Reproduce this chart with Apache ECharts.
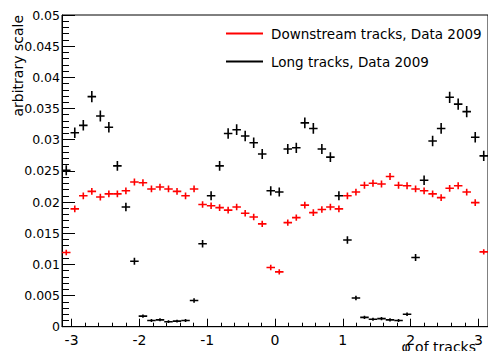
<!DOCTYPE html>
<html>
<head>
<meta charset="utf-8">
<script src="https://cdn.jsdelivr.net/npm/echarts@6/dist/echarts.min.js"></script>
<style>
  html, body { margin: 0; padding: 0; background: #fff; }
  #chart { width: 488px; height: 351px; }
</style>
</head>
<body>
<div id="chart"></div>
<script>
// Histogram binning in phi: 50 bins over [-pi, pi]
const PHI_MIN = -Math.PI;
const PHI_MAX = Math.PI;
const N_BINS = 50;

// Normalised track counts per phi bin
const downstream = [
  0.0119, 0.0189, 0.0210, 0.0217, 0.0208, 0.0213, 0.0213, 0.0218, 0.0232, 0.0231,
  0.0221, 0.0224, 0.0221, 0.0217, 0.0210, 0.0221, 0.0196, 0.0194, 0.0191, 0.0187,
  0.0192, 0.0182, 0.0176, 0.0165, 0.0095, 0.0088, 0.0167, 0.0175, 0.0195, 0.0183,
  0.0188, 0.0192, 0.0189, 0.0210, 0.0216, 0.0227, 0.0230, 0.0229, 0.0241, 0.0227,
  0.0226, 0.0221, 0.0218, 0.0213, 0.0207, 0.0222, 0.0226, 0.0216, 0.0199, 0.0120
];
const downstreamErr = [
  0.00033, 0.00045, 0.00045, 0.00045, 0.00045, 0.00045, 0.00045, 0.00045, 0.00046, 0.00046,
  0.00045, 0.00045, 0.00045, 0.00045, 0.00045, 0.00045, 0.00044, 0.00044, 0.00043, 0.00043,
  0.00043, 0.00042, 0.00042, 0.00041, 0.00033, 0.00032, 0.00041, 0.00042, 0.00044, 0.00043,
  0.00043, 0.00044, 0.00043, 0.00045, 0.00045, 0.00046, 0.00046, 0.00046, 0.00047, 0.00046,
  0.00046, 0.00045, 0.00045, 0.00045, 0.00045, 0.00045, 0.00046, 0.00045, 0.00044, 0.00033
];
const longTracks = [
  0.0251, 0.0311, 0.0323, 0.0369, 0.0338, 0.0320, 0.0258, 0.0192, 0.0105, 0.0017,
  0.0010, 0.0011, 0.0008, 0.0009, 0.0010, 0.0042, 0.0133, 0.0210, 0.0258, 0.0310,
  0.0316, 0.0306, 0.0295, 0.0277, 0.0218, 0.0216, 0.0285, 0.0287, 0.0327, 0.0318,
  0.0285, 0.0272, 0.0210, 0.0139, 0.0046, 0.0015, 0.0012, 0.0013, 0.0011, 0.0010,
  0.0020, 0.0111, 0.0235, 0.0298, 0.0318, 0.0368, 0.0357, 0.0345, 0.0304, 0.0274
];
const longErr = [
  0.00070, 0.00075, 0.00075, 0.00080, 0.00078, 0.00075, 0.00070, 0.00060, 0.00045, 0.00018,
  0.00014, 0.00014, 0.00012, 0.00013, 0.00014, 0.00028, 0.00050, 0.00062, 0.00070, 0.00075,
  0.00076, 0.00075, 0.00074, 0.00071, 0.00064, 0.00063, 0.00072, 0.00073, 0.00077, 0.00076,
  0.00072, 0.00070, 0.00062, 0.00050, 0.00028, 0.00017, 0.00015, 0.00016, 0.00015, 0.00014,
  0.00020, 0.00045, 0.00066, 0.00074, 0.00076, 0.00080, 0.00080, 0.00079, 0.00074, 0.00071
];

const seriesNames = ['Downstream tracks, Data 2009', 'Long tracks, Data 2009'];
const xTickLabels = [-3, -2, -1, 0, 1, 2, 3];
const yTitle = 'arbitrary scale';
const xTitle = '\u03c6 of tracks';

const FONT = 'DejaVu Sans';
const binWidth = (PHI_MAX - PHI_MIN) / N_BINS;
const halfBin = binWidth / 2;

function binned(values, errors) {
  return values.map((v, i) => [PHI_MIN + (i + 0.5) * binWidth, v, errors[i]]);
}

// minor x ticks every 0.2
const xMinorTicks = [];
for (let k = -15; k <= 15; k++) xMinorTicks.push(k / 5);

// each bin drawn as a cross: horizontal bar over the bin width, vertical bar = stat. error
function crossRenderer(color) {
  return function (params, api) {
    const x = api.value(0), y = api.value(1), e = api.value(2);
    const l = api.coord([x - halfBin, y]);
    const r = api.coord([x + halfBin, y]);
    const t = api.coord([x, y + e]);
    const b = api.coord([x, y - e]);
    const style = { stroke: color, lineWidth: 1.6 };
    return {
      type: 'group',
      children: [
        { type: 'line', shape: { x1: l[0], y1: l[1], x2: r[0], y2: r[1] }, style: style },
        { type: 'line', shape: { x1: t[0], y1: t[1] - 0.6, x2: b[0], y2: b[1] + 0.6 }, style: style }
      ]
    };
  };
}

const chart = echarts.init(document.getElementById('chart'), null, { renderer: 'svg' });

chart.setOption({
  animation: false,
  backgroundColor: '#fff',
  textStyle: { fontFamily: FONT, color: '#000' },
  grid: {
    left: 62, top: 15, width: 430, height: 311.7,
    show: true, borderColor: '#000', borderWidth: 1, backgroundColor: 'transparent'
  },
  legend: {
    orient: 'vertical',
    left: 226, top: 25,
    padding: 0,
    itemGap: 11,
    icon: 'rect',
    itemWidth: 37, itemHeight: 2,
    data: seriesNames,
    textStyle: { fontFamily: FONT, fontSize: 13.5, color: '#000', lineHeight: 17, padding: [0, 0, 0, 3] }
  },
  xAxis: [
    {
      type: 'value', min: PHI_MIN, max: PHI_MAX,
      axisLine: { show: true, onZero: false, lineStyle: { color: '#000', width: 1 } },
      axisTick: { show: true, inside: true, length: 8, customValues: xTickLabels, lineStyle: { color: '#000' } },
      axisLabel: { show: true, customValues: xTickLabels, fontSize: 14, color: '#000', fontFamily: FONT, margin: 6 },
      splitLine: { show: false }
    },
    {
      type: 'value', min: PHI_MIN, max: PHI_MAX, position: 'bottom',
      axisLine: { show: false, onZero: false },
      axisTick: { show: true, inside: true, length: 4, customValues: xMinorTicks, lineStyle: { color: '#000' } },
      axisLabel: { show: false },
      splitLine: { show: false }
    }
  ],
  yAxis: {
    type: 'value', min: 0, max: 0.05, interval: 0.005,
    axisLine: { show: true, onZero: false, lineStyle: { color: '#000', width: 1 } },
    axisTick: { show: true, inside: true, length: 13, lineStyle: { color: '#000' } },
    minorTick: { show: true, splitNumber: 5, length: 7, lineStyle: { color: '#000' } },
    axisLabel: { fontSize: 12.5, color: '#000', fontFamily: FONT, margin: 2 },
    splitLine: { show: false },
    minorSplitLine: { show: false }
  },
  series: [
    {
      type: 'custom', name: seriesNames[1],
      xAxisIndex: 0, yAxisIndex: 0, clip: true,
      itemStyle: { color: '#000' },
      renderItem: crossRenderer('#000'),
      encode: { x: 0, y: 1 },
      data: binned(longTracks, longErr)
    },
    {
      type: 'custom', name: seriesNames[0],
      xAxisIndex: 0, yAxisIndex: 0, clip: true,
      itemStyle: { color: '#ff0000' },
      renderItem: crossRenderer('#ff0000'),
      encode: { x: 0, y: 1 },
      data: binned(downstream, downstreamErr)
    }
  ],
  graphic: [
    {
      type: 'text', x: 18, y: 15, rotation: Math.PI / 2,
      style: { text: yTitle, font: '14px "DejaVu Sans"', fill: '#000', align: 'right', verticalAlign: 'middle' }
    },
    {
      type: 'text', x: 476, y: 340,
      style: { text: xTitle, font: '14px "DejaVu Sans"', fill: '#000', align: 'right', verticalAlign: 'top' }
    }
  ]
});
</script>
</body>
</html>
